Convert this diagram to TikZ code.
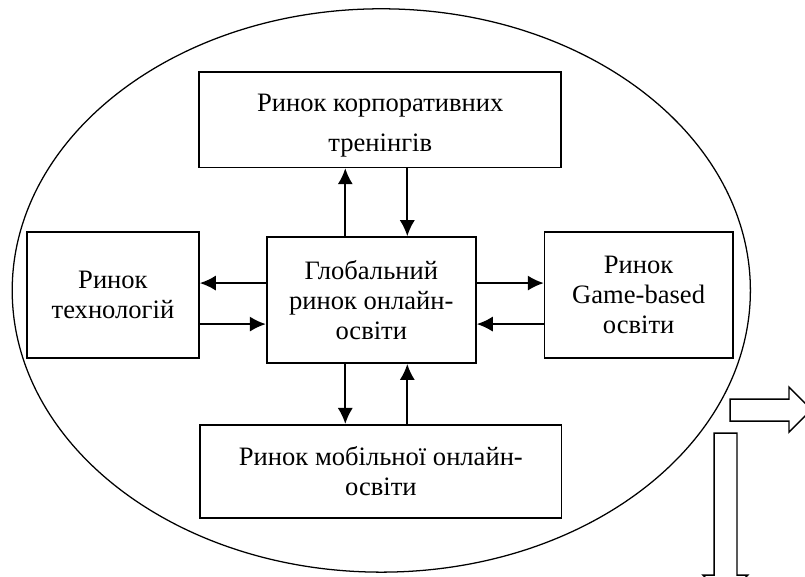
\documentclass[tikz,border=0pt]{standalone}
\usepackage{fontspec}
\setmainfont{Liberation Serif}
\usetikzlibrary{positioning,arrows.meta}

\begin{document}
\begin{tikzpicture}[auto, >={Latex[length=0.4cm,width=0.38cm]},
    box/.style={draw, line width=1.2pt, align=center, inner sep=2pt,
      font=\fontsize{18.9}{21.3}\selectfont},
    link/.style={->, line width=1.4pt}]
  \clip (-9.28,7.5) rectangle (10.84,-6.9);

  % outer market
  \draw[line width=0.9pt] (0.25,0.24) ellipse [x radius=9.225, y radius=7.04];

  \node[box, minimum width=5.23cm, minimum height=3.15cm] (glob) {Глобальний\\ринок онлайн-\\освіти};
  \node[box, minimum width=9.05cm, minimum height=2.375cm, above=1.7cm of glob, xshift=0.225cm] (corp) {\rule{0pt}{0.72cm}Ринок корпоративних\\[0.25cm]тренінгів};
  \node[box, minimum width=9.03cm, minimum height=2.325cm, below=1.5cm of glob, xshift=0.24cm] (mob) {Ринок мобільної онлайн-\\освіти};
  \node[box, minimum width=4.3cm, minimum height=3.15cm, left=1.65cm of glob, yshift=0.125cm] (tech) {Ринок\\технологій};
  \node[box, minimum width=4.7cm, minimum height=3.15cm, right=1.675cm of glob, yshift=0.125cm] (game) {Ринок\\Game-based\\освіти};

  \draw[link] (glob.north-|-0.65,0) -- (corp.south-|-0.65,0);
  \draw[link] (corp.south-|0.9,0) -- (glob.north-|0.9,0);
  \draw[link] (glob.south-|-0.65,0) -- (mob.north-|-0.65,0);
  \draw[link] (mob.north-|0.9,0) -- (glob.south-|0.9,0);
  \draw[link] (glob.west|-0,0.425) -- (tech.east|-0,0.425);
  \draw[link] (tech.east|-0,-0.6) -- (glob.west|-0,-0.6);
  \draw[link] (glob.east|-0,0.425) -- (game.west|-0,0.425);
  \draw[link] (game.west|-0,-0.6) -- (glob.east|-0,-0.6);

  % block arrows
  \draw[line width=1pt] (8.97,-2.475) -- (10.44,-2.475) -- (10.44,-2.175) -- (11.0,-2.7375)
    -- (10.44,-3.3) -- (10.44,-3.025) -- (8.97,-3.025) -- cycle;
  \draw[line width=1pt] (8.29,-6.875) -- (8.57,-6.875) -- (8.57,-3.325) -- (9.14,-3.325)
    -- (9.14,-6.875) -- (9.41,-6.875) -- (8.855,-7.43) -- cycle;
\end{tikzpicture}
\end{document}
